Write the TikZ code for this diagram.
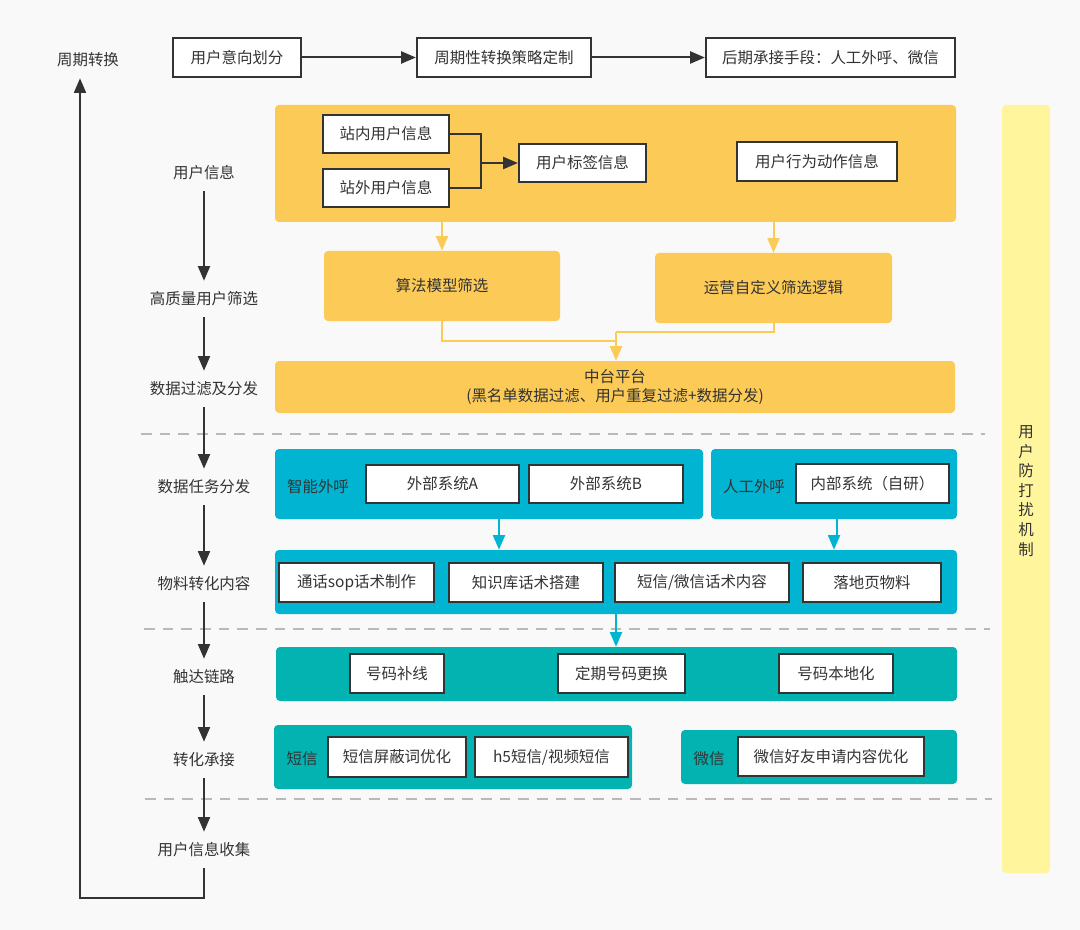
\documentclass[tikz,border=0pt]{standalone}
\usepackage{fontspec}
\setmainfont{Noto Sans CJK SC}
\usetikzlibrary{arrows.meta}
\definecolor{bg}{RGB}{249,249,249}
\definecolor{txt}{RGB}{51,51,51}
\definecolor{dk}{RGB}{51,51,51}
\definecolor{org}{RGB}{252,202,86}
\definecolor{blu}{RGB}{0,180,210}
\definecolor{tea}{RGB}{2,179,178}
\definecolor{yel}{RGB}{255,245,157}
\definecolor{gry}{RGB}{185,185,185}
\newcommand\mkbox[7]{\node[#1,minimum width={(#4-#2)*0.75pt},minimum height={(#5-#3)*0.75pt}] (#6) at ({(#2+#4)/2},{(#3+#5)/2}) {#7};}
\begin{document}
\begin{tikzpicture}[x=0.75pt,y=-0.75pt,
  font=\fontsize{11.6}{14}\selectfont,
  every node/.style={text=txt},
  wbox/.style={draw=dk,line width=1.7pt,fill=white,inner sep=0pt,align=center},
  obox/.style={fill=org,rounded corners=3pt,inner sep=0pt,align=center},
  bbox/.style={fill=blu,rounded corners=3pt,inner sep=0pt},
  tbox/.style={fill=tea,rounded corners=3pt,inner sep=0pt},
  ybox/.style={fill=yel,rounded corners=3pt,inner sep=0pt},
  lab/.style={inner sep=0pt,minimum height=27pt},
  karr/.style={draw=dk,line width=1.5pt,-{Triangle[length=11pt,width=9pt]}},
  kline/.style={draw=dk,line width=1.5pt},
  oarr/.style={draw=org,line width=1.5pt,-{Triangle[length=11pt,width=9pt]}},
  oline/.style={draw=org,line width=1.5pt},
  barr/.style={draw=blu,line width=1.5pt,-{Triangle[length=11pt,width=9pt]}},
  sepline/.style={draw=gry,line width=1.1pt,dash pattern=on 8pt off 6pt}]
\fill[bg] (0,0) rectangle (1080,930);
\useasboundingbox (0,0) rectangle (1080,930);
% separators
\draw[sepline] (141,434) -- (985,434);
\draw[sepline] (144,629) -- (990,629);
\draw[sepline] (145,799) -- (992,799);
% top row
\node[lab] (zq) at (88,60) {周期转换};
\mkbox{wbox}{173}{38}{301}{77}{b1}{用户意向划分}
\mkbox{wbox}{417}{38}{591}{77}{b2}{周期性转换策略定制}
\mkbox{wbox}{706}{38}{955}{77}{b3}{后期承接手段：人工外呼、微信}
\draw[karr] (b1) -- (b2);
\draw[karr] (b2) -- (b3);
% right bar
\mkbox{ybox}{1002}{105}{1050}{873}{yb}{}
\node[align=center,font=\fontsize{11.6}{14.7}\selectfont] (vt) at (1026,491) {用\\户\\防\\打\\扰\\机\\制};
% orange area
\mkbox{obox}{275}{105}{956}{222}{ob}{}
\mkbox{wbox}{323}{115}{449}{153}{zn}{站内用户信息}
\mkbox{wbox}{323}{169}{449}{207}{zw}{站外用户信息}
\mkbox{wbox}{519}{144}{646}{182}{tag}{用户标签信息}
\mkbox{wbox}{737}{142}{897}{181}{act}{用户行为动作信息}
\coordinate (j) at (481,163);
\draw[kline] (zn.east) -| (j);
\draw[kline] (zw.east) -| (j);
\draw[karr] (j) -- (tag.west);
\mkbox{obox}{324}{251}{560}{321}{alg}{算法模型筛选}
\mkbox{obox}{655}{253}{892}{323}{ops}{运营自定义筛选逻辑}
\mkbox{obox}{275}{361}{955}{413}{zt}{中台平台\\(黑名单数据过滤、用户重复过滤+数据分发)}
\draw[oarr] (ob.south -| alg.north) -- (alg.north);
\draw[oarr] (ob.south -| ops.north) -- (ops.north);
\coordinate (m1) at (616,341);
\coordinate (m2) at (616,332);
\draw[oline] (alg.south) |- (m1);
\draw[oline] (ops.south) |- (m2);
\draw[oarr] (m2) -- (m2 |- zt.north);
% blue area
\mkbox{bbox}{275}{449}{703}{519}{bl1}{}
\mkbox{bbox}{711}{449}{957}{519}{bl2}{}
\node (zn1) at (318,487) {智能外呼};
\node (rg1) at (754,487) {人工外呼};
\mkbox{wbox}{366}{465}{519}{503}{sa}{外部系统A}
\mkbox{wbox}{529}{465}{683}{503}{sb}{外部系统B}
\mkbox{wbox}{796}{464}{949}{503}{si}{内部系统（自研）}
\mkbox{bbox}{275}{550}{957}{614}{bl3}{}
\mkbox{wbox}{279}{563}{434}{602}{c1}{通话sop话术制作}
\mkbox{wbox}{449}{563}{603}{602}{c2}{知识库话术搭建}
\mkbox{wbox}{615}{563}{789}{602}{c3}{短信/微信话术内容}
\mkbox{wbox}{803}{563}{941}{602}{c4}{落地页物料}
\draw[barr] (499,0 |- bl1.south) -- (499,0 |- bl3.north);
\draw[barr] (837,0 |- bl2.south) -- (837,536) -- (834,536) -- (834,0 |- bl3.north);
% teal area
\mkbox{tbox}{276}{647}{957}{701}{tl1}{}
\mkbox{wbox}{350}{654}{444}{693}{n1}{号码补线}
\mkbox{wbox}{558}{654}{685}{693}{n2}{定期号码更换}
\mkbox{wbox}{779}{654}{893}{693}{n3}{号码本地化}
\draw[barr] (616,0 |- bl3.south) -- (616,0 |- tl1.north);
\mkbox{tbox}{274}{725}{632}{789}{tl2}{}
\node (dx) at (302,759) {短信};
\mkbox{wbox}{328}{737}{466}{777}{s1}{短信屏蔽词优化}
\mkbox{wbox}{475}{737}{628}{777}{s2}{h5短信/视频短信}
\mkbox{tbox}{681}{730}{957}{784}{tl3}{}
\node (wx) at (709,759) {微信};
\mkbox{wbox}{738}{737}{924}{776}{w1}{微信好友申请内容优化}
% left column
\node[lab] (l1) at (204,173) {用户信息};
\node[lab] (l2) at (204,299) {高质量用户筛选};
\node[lab] (l3) at (204,389) {数据过滤及分发};
\node[lab] (l4) at (204,487) {数据任务分发};
\node[lab] (l5) at (204,584) {物料转化内容};
\node[lab] (l6) at (204,677) {触达链路};
\node[lab] (l7) at (204,760) {转化承接};
\node[lab] (l8) at (204,850) {用户信息收集};
\draw[karr] (l1) -- (l2);
\draw[karr] (l2) -- (l3);
\draw[karr] (l3) -- (l4);
\draw[karr] (l4) -- (l5);
\draw[karr] (l5) -- (l6);
\draw[karr] (l6) -- (l7);
\draw[karr] (l7) -- (l8);
\coordinate (rb) at (80,898);
\draw[karr] (l8.south) |- (rb) -- (rb |- zq.south);
\end{tikzpicture}
\end{document}
